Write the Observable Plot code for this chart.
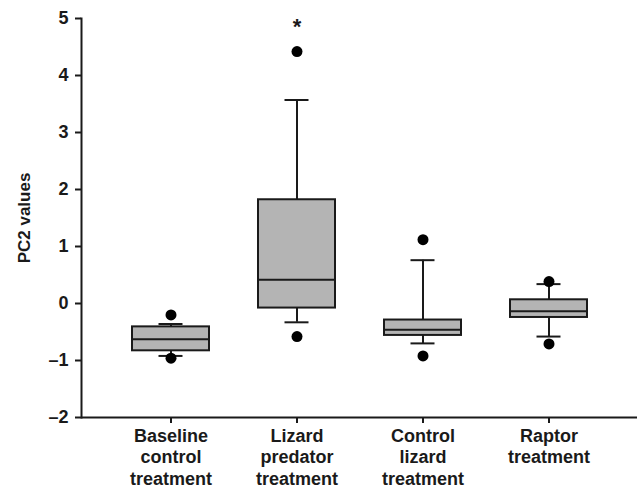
<!DOCTYPE html>
<html>
<head>
<meta charset="utf-8">
<script src="https://cdn.jsdelivr.net/npm/d3@7"></script>
<script src="https://cdn.jsdelivr.net/npm/@observablehq/plot@0.6"></script>
<style>
  html, body { margin: 0; padding: 0; background: #fff; }
  #chart svg { display: block; }
</style>
</head>
<body>
<div id="chart"></div>
<script>
const categories = [
  "Baseline\ncontrol\ntreatment",
  "Lizard\npredator\ntreatment",
  "Control\nlizard\ntreatment",
  "Raptor\ntreatment"
];
const whiskerLow   = [-0.92, -0.33, -0.70, -0.58];
const q1           = [-0.83, -0.08, -0.56, -0.245];
const median       = [-0.625, 0.415, -0.46, -0.135];
const q3           = [-0.41, 1.82, -0.29, 0.065];
const whiskerHigh  = [-0.36, 3.57, 0.76, 0.34];
const outlierLow   = [-0.96, -0.58, -0.92, -0.71];
const outlierHigh  = [-0.20, 4.42, 1.12, 0.385];
const yTicks = [-2, -1, 0, 1, 2, 3, 4, 5];
const yLabel = "PC2 values";
const marks = [{category: "Lizard\npredator\ntreatment", label: "*", value: 4.92}];

const boxes = categories.map((c, i) => ({
  category: c, lo: whiskerLow[i], q1: q1[i], med: median[i], q3: q3[i], hi: whiskerHigh[i]
}));
const outliers = categories.flatMap((c, i) => [
  {category: c, value: outlierLow[i]},
  {category: c, value: outlierHigh[i]}
]);

const font = "'Liberation Sans', Arial, Helvetica, sans-serif";
const ink = "#1a1a1a";

const chart = Plot.plot({
  width: 638,
  height: 488,
  marginLeft: 81,
  marginRight: 1,
  marginTop: 18,
  marginBottom: 71,
  style: {fontFamily: font, background: "#fff", color: ink},
  x: {type: "band", domain: categories, paddingInner: 0.389, paddingOuter: 0.4},
  y: {domain: [-2, 5]},
  marks: [
    Plot.axisY({ticks: yTicks, tickSize: 6, tickPadding: 7, strokeWidth: 2, fontSize: 18, fontWeight: "bold", label: null, tickFormat: d => d < 0 ? "\u2013" + Math.abs(d) : String(d)}),
    Plot.axisX({tickSize: 6, tickPadding: 3, strokeWidth: 2, fontSize: 18, fontWeight: "bold", lineHeight: 1.2, label: null}),
    Plot.text([yLabel], {frameAnchor: "left", textAnchor: "middle", dx: -57, rotate: -90, fontSize: 17, fontWeight: "bold", fill: ink}),
    Plot.ruleY([-2], {stroke: ink, strokeWidth: 2}),
    Plot.frame({anchor: "left", stroke: ink, strokeWidth: 2}),
    Plot.ruleX(boxes, {x: "category", y1: "q3", y2: "hi", stroke: ink, strokeWidth: 2}),
    Plot.ruleX(boxes, {x: "category", y1: "lo", y2: "q1", stroke: ink, strokeWidth: 2}),
    Plot.tickY(boxes, {x: "category", y: "hi", stroke: ink, strokeWidth: 2, insetLeft: 26.5, insetRight: 26.5}),
    Plot.tickY(boxes, {x: "category", y: "lo", stroke: ink, strokeWidth: 2, insetLeft: 26.5, insetRight: 26.5}),
    Plot.barY(boxes, {x: "category", y1: "q1", y2: "q3", fill: "#b4b4b4", stroke: ink, strokeWidth: 2}),
    Plot.tickY(boxes, {x: "category", y: "med", stroke: ink, strokeWidth: 2}),
    Plot.dot(outliers, {x: "category", y: "value", r: 5.5, fill: "#000", stroke: "none"}),
    Plot.text(marks, {x: "category", y: "value", text: "label", fontSize: 22, fontWeight: "bold", fill: ink, lineAnchor: "middle", dy: 4})
  ]
});
document.getElementById("chart").appendChild(chart);
</script>
</body>
</html>
